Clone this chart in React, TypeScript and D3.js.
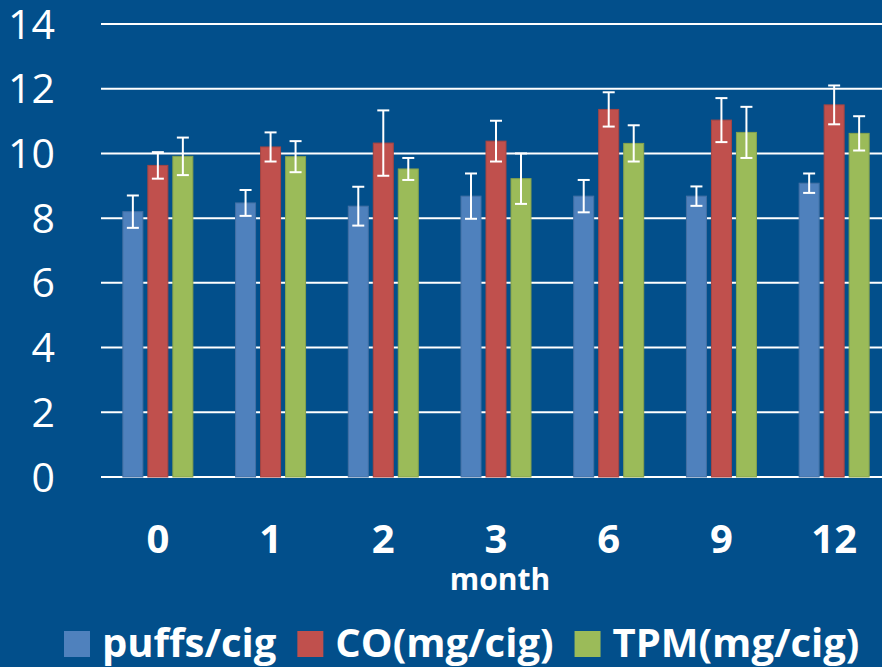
import * as d3 from "d3";
import { useEffect, useRef } from "react";

const months = ["0", "1", "2", "3", "6", "9", "12"];
const seriesNames = ["puffs/cig", "CO(mg/cig)", "TPM(mg/cig)"];
const seriesColors = ["#4F81BD", "#C0504D", "#9BBB59"];

const puffs = [8.2, 8.47, 8.37, 8.68, 8.68, 8.68, 9.08];
const puffsErr = [0.5, 0.4, 0.6, 0.7, 0.5, 0.3, 0.3];
const co = [9.63, 10.2, 10.32, 10.38, 11.36, 11.03, 11.5];
const coErr = [0.41, 0.45, 1.01, 0.63, 0.53, 0.68, 0.6];
const tpm = [9.91, 9.9, 9.52, 9.22, 10.31, 10.65, 10.62];
const tpmErr = [0.58, 0.48, 0.34, 0.78, 0.56, 0.79, 0.53];

const yTicks = [0, 2, 4, 6, 8, 10, 12, 14];

const W = 882;
const H = 667;
const FONT = "'Open Sans', 'DejaVu Sans', sans-serif";
const BG = "#024F8B";

export default function App() {
  const legendRef = useRef<SVGGElement>(null);

  const values = [puffs, co, tpm];
  const errors = [puffsErr, coErr, tpmErr];

  const x = d3.scaleBand<string>().domain(months).range([101.5, 890.5]);
  const x1 = d3
    .scaleBand<string>()
    .domain(seriesNames)
    .range([-37.5, 37.5])
    .paddingInner(0.2)
    .paddingOuter(0.1);
  const y = d3.scaleLinear().domain([0, 14]).range([477, 24]);

  useEffect(() => {
    // lay out legend items one after another, measuring each label
    const g = d3.select(legendRef.current);
    g.selectAll("*").remove();
    let cx = 64;
    seriesNames.forEach((name, i) => {
      g.append("rect")
        .attr("x", cx)
        .attr("y", 631)
        .attr("width", 26)
        .attr("height", 26)
        .attr("fill", seriesColors[i]);
      cx += 26 + 12;
      const t = g
        .append("text")
        .attr("x", cx)
        .attr("y", 657)
        .attr("fill", "white")
        .attr("font-family", FONT)
        .attr("font-weight", "bold")
        .attr("font-size", 40)
        .text(name);
      cx += (t.node() as SVGTextElement).getComputedTextLength() + 21;
    });
  }, []);

  const capW = 12;

  return (
    <div style={{ position: "fixed", left: 0, top: 0 }}>
      <svg width={W} height={H} style={{ display: "block" }}>
        <rect width={W} height={H} fill={BG} />

        {/* gridlines and y labels */}
        {yTicks.map((t) => (
          <g key={t}>
            <line
              x1={101}
              x2={W}
              y1={y(t)}
              y2={y(t)}
              stroke="white"
              strokeWidth={2}
            />
            <text
              x={55}
              y={y(t) + 41 * 0.357}
              textAnchor="end"
              fill="white"
              fontFamily={FONT}
              fontSize={41}
            >
              {t}
            </text>
          </g>
        ))}

        {/* bars */}
        {months.map((m, mi) => {
          const cx = (x(m) ?? 0) + x.bandwidth() / 2;
          return (
            <g key={m}>
              {seriesNames.map((s, si) => {
                const v = values[si][mi];
                const bx = cx + (x1(s) ?? 0);
                return (
                  <rect
                    key={s}
                    x={bx}
                    y={y(v)}
                    width={x1.bandwidth()}
                    height={y(0) - y(v)}
                    fill={seriesColors[si]}
                    stroke={d3.color(seriesColors[si])!.darker(0.4).toString()}
                    strokeWidth={1}
                  />
                );
              })}
            </g>
          );
        })}

        {/* error bars */}
        {months.map((m, mi) => {
          const cx = (x(m) ?? 0) + x.bandwidth() / 2;
          return (
            <g key={m} stroke="white" strokeWidth={2}>
              {seriesNames.map((s, si) => {
                const v = values[si][mi];
                const e = errors[si][mi];
                const ex = cx + (x1(s) ?? 0) + x1.bandwidth() / 2;
                return (
                  <g key={s}>
                    <line x1={ex} x2={ex} y1={y(v + e)} y2={y(v - e)} />
                    <line
                      x1={ex - capW / 2}
                      x2={ex + capW / 2}
                      y1={y(v + e)}
                      y2={y(v + e)}
                    />
                    <line
                      x1={ex - capW / 2}
                      x2={ex + capW / 2}
                      y1={y(v - e)}
                      y2={y(v - e)}
                    />
                  </g>
                );
              })}
            </g>
          );
        })}

        {/* x labels */}
        {months.map((m) => (
          <text
            key={m}
            x={(x(m) ?? 0) + x.bandwidth() / 2}
            y={553}
            textAnchor="middle"
            fill="white"
            fontFamily={FONT}
            fontWeight="bold"
            fontSize={40}
          >
            {m}
          </text>
        ))}

        <text
          x={500}
          y={590}
          textAnchor="middle"
          fill="white"
          fontFamily={FONT}
          fontWeight="bold"
          fontSize={30}
        >
          month
        </text>

        <g ref={legendRef} />
      </svg>
    </div>
  );
}
